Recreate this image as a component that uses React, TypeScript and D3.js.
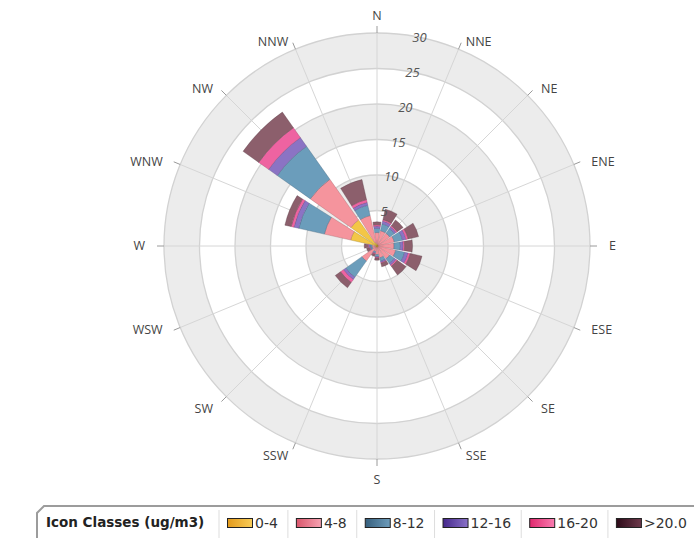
import { useEffect, useRef } from "react"
import * as d3 from "d3"

// wind directions, clockwise from north
const directions = ["N", "NNE", "NE", "ENE", "E", "ESE", "SE", "SSE", "S", "SSW", "SW", "WSW", "W", "WNW", "NW", "NNW"]

// concentration classes (ug/m3)
const classLabels = ["0-4", "4-8", "8-12", "12-16", "16-20", ">20.0"]

// frequency (%) per direction, one array per class
const class0to4 = [0.3, 0.2, 0.2, 0.2, 0.2, 0.2, 0.2, 0.2, 0.2, 0.2, 0.3, 0.2, 0.3, 3.8, 4.5, 0.5]
const class4to8 = [1.6, 2.0, 2.0, 2.3, 2.2, 2.5, 2.0, 1.5, 1.0, 0.6, 2.3, 0.5, 0.4, 3.8, 7.0, 3.9]
const class8to12 = [0.6, 1.0, 0.8, 1.2, 0.9, 1.3, 0.8, 0.5, 0.3, 0.2, 2.8, 0.2, 0.3, 3.7, 5.7, 1.5]
const class12to16 = [0.3, 0.4, 0.3, 0.5, 0.4, 0.5, 0.3, 0.2, 0.1, 0.1, 0.4, 0.1, 0.2, 0.7, 1.5, 0.4]
const class16to20 = [0.2, 0.2, 0.2, 0.3, 0.2, 0.3, 0.2, 0.1, 0.1, 0.1, 0.5, 0.1, 0.1, 0.4, 1.7, 0.4]
const classOver20 = [0.4, 1.5, 1.0, 1.5, 1.1, 1.7, 1.5, 0.5, 0.3, 0.3, 0.9, 0.4, 0.5, 0.9, 2.7, 2.9]

// radial axis ticks
const radialTicks = [5, 10, 15, 20, 25, 30]

const wedgeColors = ["#f3c646", "#f5949d", "#6b9dbb", "#8b73c4", "#ee63a1", "#8c5f6c"]
const swatchColors: [string, string][] = [
  ["#e39a1c", "#f8cc58"],
  ["#d9566c", "#f7a3b2"],
  ["#365f7d", "#6d9cbb"],
  ["#45288c", "#8a72c8"],
  ["#e0286e", "#f97cb0"],
  ["#2c0a18", "#6e3a4c"],
]

export default function App() {
  const svgRef = useRef<SVGSVGElement>(null)

  useEffect(() => {
    if (!svgRef.current) return
    const svg = d3.select(svgRef.current)
    svg.selectAll("*").remove()

    const cx = 377
    const cy = 246
    const outer = 213
    const font = "'Open Sans', 'DejaVu Sans', sans-serif"

    const r = d3.scaleLinear().domain([0, 30]).range([0, outer])
    const step = (2 * Math.PI) / directions.length
    const angle = d3
      .scaleBand<string>()
      .domain(directions)
      .range([-step / 2, 2 * Math.PI - step / 2])
    const pad = (1.5 * Math.PI) / 180
    const mid = (d: string) => (angle(d) as number) + angle.bandwidth() / 2

    const g = svg.append("g").attr("transform", `translate(${cx},${cy})`)

    // alternating bands
    const bands = radialTicks.slice().reverse()
    g.selectAll(".band")
      .data(bands)
      .enter()
      .append("circle")
      .attr("r", (d) => r(d))
      .attr("fill", (_d, i) => (i % 2 === 0 ? "#ececec" : "#ffffff"))
      .attr("stroke", "#d2d2d2")
      .attr("stroke-width", 1.3)

    // spokes
    g.selectAll(".spoke")
      .data(directions)
      .enter()
      .append("line")
      .attr("x1", 0)
      .attr("y1", 0)
      .attr("x2", (d) => Math.sin(mid(d)) * outer)
      .attr("y2", (d) => -Math.cos(mid(d)) * outer)
      .attr("stroke", "#d6d6d6")
      .attr("stroke-width", 1)

    g.selectAll(".tick")
      .data(directions)
      .enter()
      .append("line")
      .attr("x1", (d) => Math.sin(mid(d)) * outer)
      .attr("y1", (d) => -Math.cos(mid(d)) * outer)
      .attr("x2", (d) => Math.sin(mid(d)) * (outer + 7))
      .attr("y2", (d) => -Math.cos(mid(d)) * (outer + 7))
      .attr("stroke", "#9a9a9a")
      .attr("stroke-width", 1)

    // stacked wedges
    const rows = directions.map((dir, i) => ({
      dir,
      "0-4": class0to4[i],
      "4-8": class4to8[i],
      "8-12": class8to12[i],
      "12-16": class12to16[i],
      "16-20": class16to20[i],
      ">20.0": classOver20[i],
    }))
    const series = d3.stack<any>().keys(classLabels)(rows)
    const arc = d3.arc<any>()

    series.forEach((layer, li) => {
      g.selectAll(`.layer${li}`)
        .data(layer)
        .enter()
        .append("path")
        .attr("d", (d: any) =>
          arc({
            innerRadius: r(d[0]),
            outerRadius: r(d[1]),
            startAngle: (angle(d.data.dir) as number) + pad,
            endAngle: (angle(d.data.dir) as number) + angle.bandwidth() - pad,
          }),
        )
        .attr("fill", wedgeColors[li])
        .attr("stroke", d3.color(wedgeColors[li])!.darker(1.2).formatHex())
        .attr("stroke-width", 0.6)
        .attr("stroke-opacity", 0.6)
    })

    // radial tick labels
    const labelAngle = (11.5 * Math.PI) / 180
    g.selectAll(".rlabel")
      .data(radialTicks)
      .enter()
      .append("text")
      .attr("x", (d) => Math.sin(labelAngle) * r(d))
      .attr("y", (d) => -Math.cos(labelAngle) * r(d))
      .attr("text-anchor", "middle")
      .attr("dominant-baseline", "central")
      .attr("font-family", font)
      .attr("font-style", "italic")
      .attr("font-size", "13px")
      .attr("fill", "#555")
      .text((d) => d)

    // direction labels
    g.selectAll(".dlabel")
      .data(directions)
      .enter()
      .append("text")
      .attr("x", (d) => {
        const s = Math.sin(mid(d))
        return Math.abs(s) < 0.01 ? 0 : s * 232
      })
      .attr("y", (d) => {
        const c = Math.cos(mid(d))
        const ty = -c * (outer + 6)
        if (c > 0.99) return ty - 7
        if (c < -0.99) return ty + 19
        if (c > 0.5) return ty + 2
        if (c < -0.5) return ty + 12
        return ty + 4
      })
      .attr("text-anchor", (d) => {
        const s = Math.sin(mid(d))
        return Math.abs(s) < 0.01 ? "middle" : s > 0 ? "start" : "end"
      })
      .attr("font-family", font)
      .attr("font-size", "12.5px")
      .attr("fill", "#444")
      .text((d) => d)

    // legend
    const legend = svg.append("g")
    legend
      .append("path")
      .attr("d", "M694,506 L44,506 L37,513 L37,538")
      .attr("fill", "none")
      .attr("stroke", "#9c9c9c")
      .attr("stroke-width", 2)

    legend
      .append("text")
      .attr("x", 46)
      .attr("y", 527)
      .attr("font-family", "'DejaVu Sans', sans-serif")
      .attr("font-weight", "bold")
      .attr("font-size", "13.5px")
      .attr("fill", "#222")
      .text("Icon Classes (ug/m3)")

    const defs = svg.append("defs")
    swatchColors.forEach((c, i) => {
      const grad = defs
        .append("linearGradient")
        .attr("id", `sw${i}`)
        .attr("x1", "0")
        .attr("x2", "1")
        .attr("y1", "0")
        .attr("y2", "0")
      grad.append("stop").attr("offset", "0").attr("stop-color", c[0])
      grad.append("stop").attr("offset", "1").attr("stop-color", c[1])
    })

    let x = 219
    classLabels.forEach((lab, i) => {
      legend
        .append("line")
        .attr("x1", x)
        .attr("x2", x)
        .attr("y1", 510)
        .attr("y2", 538)
        .attr("stroke", "#dddddd")
        .attr("stroke-width", 1)
      legend
        .append("rect")
        .attr("x", x + 8.5)
        .attr("y", 518.5)
        .attr("width", 25)
        .attr("height", 9)
        .attr("fill", `url(#sw${i})`)
        .attr("stroke", "#222")
        .attr("stroke-width", 1)
      const t = legend
        .append("text")
        .attr("x", x + 36)
        .attr("y", 528)
        .attr("font-family", "'DejaVu Sans', sans-serif")
        .attr("font-size", "14px")
        .attr("fill", "#333")
        .text(lab)
      const w = (t.node() as SVGTextElement).getComputedTextLength()
      x = x + 36 + w + 10
    })
  }, [])

  return (
    <svg
      ref={svgRef}
      width={694}
      height={538}
      style={{ position: "absolute", left: 0, top: 0, background: "#fff" }}
    />
  )
}
